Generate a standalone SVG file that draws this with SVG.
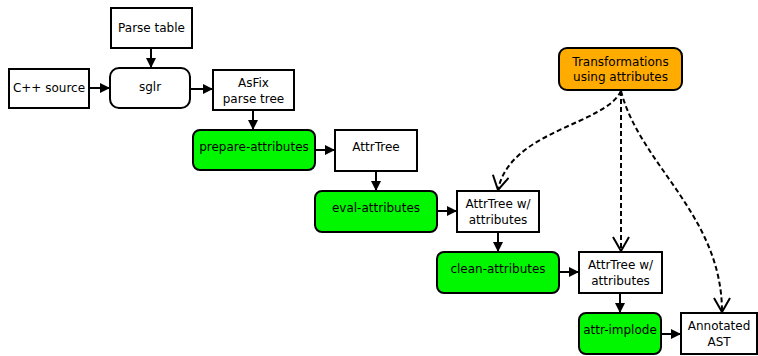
<svg xmlns="http://www.w3.org/2000/svg" width="758" height="356" viewBox="0 0 758 356">
<defs>
<style>
.box{fill:#fff;stroke:#000;stroke-width:2}
.g{fill:#00f700;stroke:#000;stroke-width:2}
.o{fill:#ffab00;stroke:#000;stroke-width:2}
.r{fill:#fff;stroke:#000;stroke-width:2}
text{font-family:"DejaVu Sans",sans-serif;font-size:12px;fill:#000;text-anchor:middle}
.e{stroke:#000;stroke-width:2;fill:none}
.d{stroke:#000;stroke-width:2;fill:none;stroke-dasharray:5,3}
</style>
<marker id="a" viewBox="0 0 10 10" refX="10" refY="5" markerWidth="5" markerHeight="5" orient="auto" markerUnits="strokeWidth"><path d="M0,0 L10,5 L0,10 z" fill="#000"/></marker>
<marker id="v" viewBox="0 0 16 18" refX="15" refY="9" markerWidth="8" markerHeight="9" orient="auto" markerUnits="strokeWidth"><path d="M1,1 L15,9 L1,17" fill="none" stroke="#000" stroke-width="2"/></marker>
</defs>
<g id="parse-table"><rect class="box" x="111" y="8" width="81" height="40"/><text x="151.5" y="32">Parse table</text></g>
<g id="cpp-source"><rect class="box" x="9" y="69" width="80" height="39"/><text x="49" y="92">C++ source</text></g>
<g id="sglr"><rect class="r" x="110" y="68" width="80" height="40" rx="9"/><text x="150" y="91">sglr</text></g>
<g id="asfix"><rect class="box" x="213" y="70" width="81" height="40"/><text x="253.5" y="87">AsFix</text><text x="253.5" y="103">parse tree</text></g>
<g id="prepare"><rect class="g" x="193" y="130" width="122" height="40" rx="7"/><text x="254" y="151">prepare-attributes</text></g>
<g id="attrtree"><rect class="box" x="335" y="130" width="82" height="41"/><text x="376" y="151">AttrTree</text></g>
<g id="eval"><rect class="g" x="315" y="191" width="122" height="41" rx="7"/><text x="376" y="212">eval-attributes</text></g>
<g id="attrtree-w1"><rect class="box" x="457" y="191" width="82" height="41"/><text x="498" y="208">AttrTree w/</text><text x="498" y="224">attributes</text></g>
<g id="clean"><rect class="g" x="437" y="252" width="122" height="41" rx="7"/><text x="498" y="273">clean-attributes</text></g>
<g id="attrtree-w2"><rect class="box" x="579" y="252" width="83" height="41"/><text x="620.5" y="269">AttrTree w/</text><text x="620.5" y="285">attributes</text></g>
<g id="implode"><rect class="g" x="579" y="313" width="82" height="41" rx="7"/><text x="620" y="334">attr-implode</text></g>
<g id="annotated"><rect class="box" x="681" y="313" width="76" height="41"/><text x="719" y="330">Annotated</text><text x="719" y="346">AST</text></g>
<g id="transformations"><rect class="o" x="559" y="48" width="123" height="42" rx="8"/><text x="620.5" y="66">Transformations</text><text x="620.5" y="81">using attributes</text></g>
<g id="connectors">
<line class="e" x1="151" y1="48" x2="151" y2="68" marker-end="url(#a)"/>
<line class="e" x1="89" y1="88" x2="110" y2="88" marker-end="url(#a)"/>
<line class="e" x1="190" y1="89" x2="213" y2="89" marker-end="url(#a)"/>
<line class="e" x1="253" y1="110" x2="253" y2="130" marker-end="url(#a)"/>
<line class="e" x1="315" y1="150" x2="335" y2="150" marker-end="url(#a)"/>
<line class="e" x1="376" y1="171" x2="376" y2="191" marker-end="url(#a)"/>
<line class="e" x1="437" y1="211" x2="457" y2="211" marker-end="url(#a)"/>
<line class="e" x1="498" y1="232" x2="498" y2="252" marker-end="url(#a)"/>
<line class="e" x1="559" y1="272" x2="579" y2="272" marker-end="url(#a)"/>
<line class="e" x1="620" y1="293" x2="620" y2="313" marker-end="url(#a)"/>
<line class="e" x1="661" y1="334" x2="681" y2="334" marker-end="url(#a)"/>
<path class="d" d="M621,91 C605,125 510,130 498,190" marker-end="url(#v)"/>
<line class="d" x1="621" y1="91" x2="621" y2="251" marker-end="url(#v)"/>
<path class="d" d="M621,91 C640,165 722,215 722,312" marker-end="url(#v)"/>
</g>
</svg>
